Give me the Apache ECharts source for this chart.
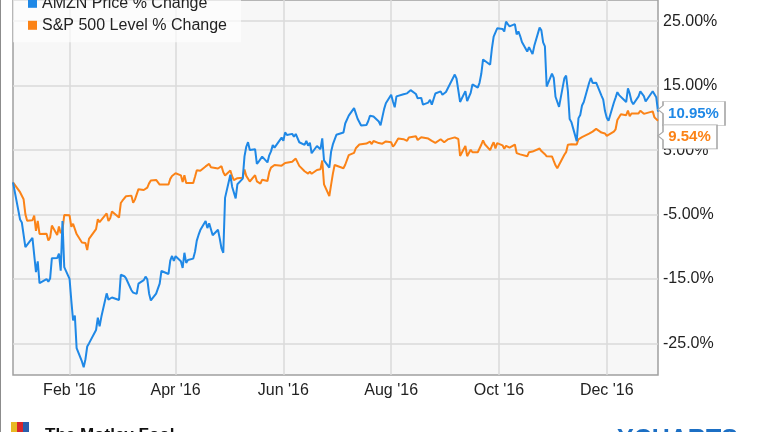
<!DOCTYPE html>
<html>
<head>
<meta charset="utf-8">
<script src="https://cdn.jsdelivr.net/npm/echarts@6/dist/echarts.min.js"></script>
<style>
html,body{margin:0;padding:0;background:#fff;}
#chart{width:764px;height:432px;}
</style>
</head>
<body>
<div id="chart"></div>
<script>
const dates = ['2015-12-31',
'2016-01-04','2016-01-05','2016-01-06','2016-01-07','2016-01-08','2016-01-11','2016-01-12','2016-01-13','2016-01-14','2016-01-15','2016-01-19','2016-01-20','2016-01-21','2016-01-22','2016-01-25','2016-01-26','2016-01-27','2016-01-28','2016-01-29',
'2016-02-01','2016-02-02','2016-02-03','2016-02-04','2016-02-05','2016-02-08','2016-02-09','2016-02-10','2016-02-11','2016-02-12','2016-02-16','2016-02-17','2016-02-18','2016-02-19','2016-02-22','2016-02-23','2016-02-24','2016-02-25','2016-02-26','2016-02-29',
'2016-03-01','2016-03-02','2016-03-03','2016-03-04','2016-03-07','2016-03-08','2016-03-09','2016-03-10','2016-03-11','2016-03-14','2016-03-15','2016-03-16','2016-03-17','2016-03-18','2016-03-21','2016-03-22','2016-03-23','2016-03-24','2016-03-28','2016-03-29','2016-03-30','2016-03-31',
'2016-04-01','2016-04-04','2016-04-05','2016-04-06','2016-04-07','2016-04-08','2016-04-11','2016-04-12','2016-04-13','2016-04-14','2016-04-15','2016-04-18','2016-04-19','2016-04-20','2016-04-21','2016-04-22','2016-04-25','2016-04-26','2016-04-27','2016-04-28','2016-04-29',
'2016-05-02','2016-05-03','2016-05-04','2016-05-05','2016-05-06','2016-05-09','2016-05-10','2016-05-11','2016-05-12','2016-05-13','2016-05-16','2016-05-17','2016-05-18','2016-05-19','2016-05-20','2016-05-23','2016-05-24','2016-05-25','2016-05-26','2016-05-27','2016-05-31',
'2016-06-01','2016-06-02','2016-06-03','2016-06-06','2016-06-07','2016-06-08','2016-06-09','2016-06-10','2016-06-13','2016-06-14','2016-06-15','2016-06-16','2016-06-17','2016-06-20','2016-06-21','2016-06-22','2016-06-23','2016-06-24','2016-06-27','2016-06-28','2016-06-29','2016-06-30',
'2016-07-01','2016-07-05','2016-07-06','2016-07-07','2016-07-08','2016-07-11','2016-07-12','2016-07-13','2016-07-14','2016-07-15','2016-07-18','2016-07-19','2016-07-20','2016-07-21','2016-07-22','2016-07-25','2016-07-26','2016-07-27','2016-07-28','2016-07-29',
'2016-08-01','2016-08-02','2016-08-03','2016-08-04','2016-08-05','2016-08-08','2016-08-09','2016-08-10','2016-08-11','2016-08-12','2016-08-15','2016-08-16','2016-08-17','2016-08-18','2016-08-19','2016-08-22','2016-08-23','2016-08-24','2016-08-25','2016-08-26','2016-08-29','2016-08-30','2016-08-31',
'2016-09-01','2016-09-02','2016-09-06','2016-09-07','2016-09-08','2016-09-09','2016-09-12','2016-09-13','2016-09-14','2016-09-15','2016-09-16','2016-09-19','2016-09-20','2016-09-21','2016-09-22','2016-09-23','2016-09-26','2016-09-27','2016-09-28','2016-09-29','2016-09-30',
'2016-10-03','2016-10-04','2016-10-05','2016-10-06','2016-10-07','2016-10-10','2016-10-11','2016-10-12','2016-10-13','2016-10-14','2016-10-17','2016-10-18','2016-10-19','2016-10-20','2016-10-21','2016-10-24','2016-10-25','2016-10-26','2016-10-27','2016-10-28','2016-10-31',
'2016-11-01','2016-11-02','2016-11-03','2016-11-04','2016-11-07','2016-11-08','2016-11-09','2016-11-10','2016-11-11','2016-11-14','2016-11-15','2016-11-16','2016-11-17','2016-11-18','2016-11-21','2016-11-22','2016-11-23','2016-11-25','2016-11-28','2016-11-29','2016-11-30',
'2016-12-01','2016-12-02','2016-12-05','2016-12-06','2016-12-07','2016-12-08','2016-12-09','2016-12-12','2016-12-13','2016-12-14','2016-12-15','2016-12-16','2016-12-19','2016-12-20','2016-12-21','2016-12-22','2016-12-23','2016-12-27','2016-12-28','2016-12-29','2016-12-30'];

const amznPct = [0,
-5.76,-6.23,-6.40,-10.05,-10.19,-8.60,-8.58,-13.92,-12.26,-15.64,-15.00,-15.40,-14.92,-11.76,-11.74,-11.04,-13.69,-6.00,-13.15,
-14.96,-18.32,-21.43,-20.66,-25.71,-27.78,-28.68,-27.43,-25.46,-24.98,-22.90,-20.98,-22.32,-20.86,-17.22,-18.19,-18.03,-17.86,-17.85,-18.25,
-14.33,-14.16,-14.56,-14.91,-16.73,-17.11,-17.22,-17.30,-15.72,-15.17,-14.63,-15.04,-17.23,-18.32,-17.26,-17.08,-15.72,-13.75,-14.21,-12.14,-11.42,-12.17,
-11.45,-12.24,-13.28,-10.92,-12.50,-12.03,-11.83,-10.76,-9.04,-8.16,-7.40,-6.00,-7.10,-6.35,-6.64,-8.20,-7.35,-8.73,-10.26,-10.93,-2.41,
1.18,-0.68,-0.74,-2.49,-0.29,0.57,4.02,5.52,6.22,5.03,5.14,2.87,3.19,3.35,3.98,3.09,4.19,4.80,5.77,5.38,6.94,
6.44,7.75,7.35,7.52,7.08,7.51,7.66,6.22,5.82,6.42,5.68,6.16,4.51,5.64,5.91,5.14,6.83,3.41,2.29,4.74,5.88,5.88,
7.37,7.72,9.13,8.98,10.34,11.52,10.70,9.87,9.66,8.81,8.90,9.48,10.33,10.14,10.20,9.43,8.83,8.99,11.35,12.27,
13.59,12.53,11.65,13.33,13.41,13.67,13.71,13.80,14.11,14.30,13.70,13.04,13.13,13.10,12.05,12.37,12.81,12.04,12.33,13.78,14.11,13.57,13.80,
14.02,14.29,16.72,16.07,16.00,12.47,14.14,12.59,12.61,13.88,15.18,14.68,15.44,16.84,19.06,19.21,18.24,20.75,22.61,22.66,23.88,
23.80,23.40,24.93,24.53,24.20,24.53,22.95,23.41,22.69,21.76,20.28,20.97,20.98,19.89,21.17,24.00,23.57,21.70,21.08,14.86,16.86,
16.20,13.27,13.48,11.71,16.13,16.55,14.20,9.84,9.34,6.39,9.96,10.45,11.91,12.47,15.40,16.19,15.42,15.46,13.45,12.82,11.05,
10.03,9.54,12.35,13.14,13.99,13.53,13.73,12.46,14.57,13.75,12.59,12.11,13.33,14.10,14.01,13.38,12.53,14.13,14.24,13.21,10.95];

const spxPct = [0,
-1.53,-1.33,-2.63,-4.93,-5.96,-5.88,-5.15,-7.52,-5.97,-8.00,-7.96,-9.03,-8.56,-6.70,-8.16,-6.86,-7.88,-7.37,-5.07,
-5.12,-6.89,-6.43,-6.29,-8.02,-9.32,-9.38,-9.40,-10.51,-8.77,-7.26,-5.73,-6.17,-6.17,-4.82,-6.00,-5.58,-4.51,-4.69,-5.47,
-3.21,-2.81,-2.47,-2.15,-2.06,-3.16,-2.68,-2.66,-1.06,-1.19,-1.37,-0.82,-0.16,0.28,0.37,0.29,-0.35,-0.39,-0.34,0.54,0.98,0.77,
1.41,1.09,0.06,1.11,-0.10,0.18,-0.10,0.87,1.88,1.90,1.80,2.47,2.78,2.86,2.33,2.33,2.15,2.34,2.51,1.56,1.05,
1.83,0.95,0.35,0.33,0.65,0.72,1.98,1.00,0.99,0.13,1.11,0.16,0.18,-0.19,0.41,0.20,1.57,2.28,2.26,2.70,2.59,
2.71,3.00,2.70,3.20,3.34,3.68,3.50,2.55,1.72,1.54,1.35,1.67,1.33,1.92,2.20,2.03,3.39,-0.32,-2.12,-0.38,1.31,2.69,
2.89,2.18,2.73,2.64,4.21,4.56,5.29,5.31,5.86,5.76,6.02,5.86,6.32,5.93,6.41,6.09,6.13,6.00,6.17,6.34,
6.21,5.53,5.86,5.89,6.80,6.70,6.74,6.44,6.94,6.85,7.15,6.57,6.77,7.00,6.85,6.79,6.99,6.43,6.29,6.12,6.68,6.47,6.21,
6.21,6.66,6.97,6.96,6.72,4.10,5.63,4.06,4.00,5.05,4.66,4.66,4.69,5.83,6.52,5.91,5.00,5.67,6.23,5.24,6.08,
5.74,5.21,5.67,5.72,5.37,5.86,4.54,4.66,4.34,4.36,4.04,4.68,4.91,4.77,4.76,5.25,4.85,4.67,4.36,4.03,4.02,
3.32,2.64,2.19,2.02,4.28,4.68,5.84,6.04,5.90,5.88,6.68,6.51,7.01,6.75,7.55,7.78,7.87,8.29,7.72,7.86,7.58,
7.20,7.24,7.87,8.23,9.66,9.90,10.55,10.42,11.14,10.24,10.67,10.48,10.69,11.10,10.82,10.62,10.76,11.01,10.08,10.05,9.54];

const seriesNames = ['AMZN Price % Change', 'S&P 500 Level % Change'];
const xTickDates = ['2016-02-01','2016-04-01','2016-06-01','2016-08-01','2016-10-01','2016-12-01'];
const xTickLabels = ["Feb '16","Apr '16","Jun '16","Aug '16","Oct '16","Dec '16"];
const yTickValues = [-25, -15, -5, 5, 15, 25];
const yTickLabels = ['-25.0%','-15.0%','-5.00%','5.00%','15.00%','25.00%'];

const BLUE = '#1f88e6';
const ORANGE = '#fb8317';
const FONT = '"Liberation Sans", Arial, sans-serif';

function toTime(d) {
  const p = d.split('-').map(Number);
  return new Date(p[0], p[1] - 1, p[2]).getTime();
}
const times = dates.map(toTime);
const xTickNums = xTickDates.map(toTime);
const lastTime = times[times.length - 1];

function seriesData(vals) {
  return times.map((t, i) => [t, vals[i]]);
}

function callout(color, value, width, arrowY, offsetY, textOffsetX) {
  const h = 24;
  const path = 'path://M5,0 L' + width + ',0 L' + width + ',' + h + ' L5,' + h +
    ' L5,' + (arrowY + 4) + ' L0,' + arrowY + ' L5,' + (arrowY - 4) + ' Z';
  return {
    silent: true,
    symbol: path,
    symbolSize: [width, h],
    symbolOffset: [width / 2, offsetY],
    itemStyle: { color: '#ffffff', borderColor: '#a8a8a8', borderWidth: 1 },
    label: {
      show: true, position: 'inside', offset: [textOffsetX, 0],
      color: color, fontFamily: FONT, fontWeight: 'bold', fontSize: 15,
      formatter: p => p.value.toFixed(2) + '%'
    },
    data: [{ coord: [lastTime, value], value: value }]
  };
}

const chart = echarts.init(document.getElementById('chart'), null, { renderer: 'canvas' });
chart.setOption({
  backgroundColor: '#ffffff',
  animation: false,
  textStyle: { fontFamily: FONT },
  grid: {
    left: 13, right: 106, top: -3, bottom: 57,
    show: true, backgroundColor: '#f7f7f7', borderColor: '#a0a0a0', borderWidth: 1.5
  },
  legend: {
    orient: 'vertical', left: 13, top: -14.7,
    padding: [10, 14, 9, 15], itemGap: 6,
    backgroundColor: 'rgba(255,255,255,0.65)',
    icon: 'rect', itemWidth: 9, itemHeight: 9,
    textStyle: { fontFamily: FONT, fontSize: 16, color: '#222' },
    data: seriesNames
  },
  xAxis: {
    type: 'value',
    min: times[0], max: lastTime,
    axisLine: { show: false },
    axisTick: { show: false, customValues: xTickNums },
    axisLabel: {
      customValues: xTickNums, margin: 8,
      color: '#222', fontFamily: FONT, fontSize: 16,
      formatter: v => { const i = xTickNums.indexOf(v); return i >= 0 ? xTickLabels[i] : ''; }
    },
    splitLine: { show: true, lineStyle: { color: '#dadada', width: 1.5 } }
  },
  yAxis: {
    type: 'value', position: 'right',
    min: -29.88, max: 28.28,
    axisLine: { show: false },
    axisTick: { show: false, customValues: yTickValues },
    axisLabel: {
      customValues: yTickValues, margin: 5,
      color: '#222', fontFamily: FONT, fontSize: 16,
      formatter: v => { const i = yTickValues.indexOf(v); return i >= 0 ? yTickLabels[i] : ''; }
    },
    splitLine: { show: true, lineStyle: { color: '#dadada', width: 1.5 } }
  },
  series: [
    {
      name: seriesNames[0], type: 'line', showSymbol: false, clip: false,
      color: BLUE, lineStyle: { width: 2, color: BLUE },
      data: seriesData(amznPct),
      markPoint: callout(BLUE, amznPct[amznPct.length - 1], 67, 8, 1.8, 2),
      z: 3
    },
    {
      name: seriesNames[1], type: 'line', showSymbol: false, clip: false,
      color: ORANGE, lineStyle: { width: 2, color: ORANGE },
      data: seriesData(spxPct),
      markPoint: callout(ORANGE, spxPct[spxPct.length - 1], 59, 11, 16, 2),
      z: 2
    }
  ],
  graphic: [
    { type: 'line', shape: { x1: 0.5, y1: 0, x2: 0.5, y2: 432 }, style: { stroke: '#8c8c8c', lineWidth: 1 }, silent: true },
    { type: 'rect', shape: { x: 11, y: 422, width: 6, height: 10 }, style: { fill: '#e8b923' }, silent: true },
    { type: 'rect', shape: { x: 17, y: 422, width: 6, height: 10 }, style: { fill: '#d9262c' }, silent: true },
    { type: 'rect', shape: { x: 23, y: 422, width: 6, height: 10 }, style: { fill: '#2b5fad' }, silent: true },
    { type: 'text', left: 45, top: 427, style: { text: 'The Motley Fool', font: 'bold 17px ' + FONT, fill: '#111' }, silent: true },
    { type: 'text', left: 617, top: 428, style: { text: 'YCHARTS', font: 'bold 25px ' + FONT, fill: '#1c6fc4' }, silent: true }
  ]
});
</script>
</body>
</html>
